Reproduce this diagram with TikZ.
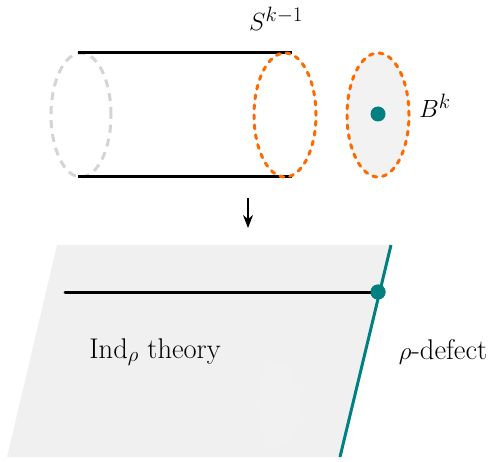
\documentclass[tikz,border=0pt]{standalone}
\usetikzlibrary{arrows.meta}
\definecolor{orng}{HTML}{FF6A00}
\definecolor{tealc}{HTML}{008080}
\definecolor{ltgray}{HTML}{D4D4D4}
\definecolor{planefill}{HTML}{F0F0F0}
\definecolor{diskfill}{HTML}{F2F2F2}
\definecolor{faintfill}{HTML}{F1F1F1}
\begin{document}
\begin{tikzpicture}[x=1pt,y=-1pt,
  solidline/.style={line width=3pt},
  orngdash/.style={draw=orng,line width=3pt,line cap=round,dash pattern=on 4pt off 6pt},
  graydash/.style={draw=ltgray,line width=3pt,dash pattern=on 8pt off 6pt},
  dot/.style={circle,fill=tealc,inner sep=0pt,minimum size=15pt},
  lbl/.style={inner sep=0pt,font=\fontsize{28.5}{34}\selectfont}]
\useasboundingbox (0,0) rectangle (489,462);
% top cylinder
\coordinate (tl) at (78,53);
\coordinate (tr) at (292,53);
\coordinate (bl) at (78,177);
\coordinate (br) at (292,177);
\draw[graydash] (81,115) ellipse [x radius=30pt, y radius=62pt];
\draw[solidline] (tl) -- (tr);
\draw[solidline] (bl) -- (br);
\draw[orngdash] (285,115) ellipse [x radius=31pt, y radius=62pt];
\node[lbl] (S) at (276,19) {$S^{k-1}$};
% ball
\fill[diskfill] (378,115) ellipse [x radius=31pt, y radius=62pt];
\draw[orngdash] (378,115) ellipse [x radius=31pt, y radius=62pt];
\node[dot] (bdot) at (378,114) {};
\node[lbl,anchor=west] (B) at (419,106) {$B^k$};
% arrow
\coordinate (a1) at (248,198);
\coordinate (a2) at (248,228);
\draw[line width=1.3pt,-{Stealth[length=13pt,width=10pt]}] (a1) -- (a2);
% plane
\coordinate (p1) at (57,245);
\coordinate (p2) at (391,245);
\coordinate (p3) at (340,457);
\coordinate (p4) at (7,457);
\fill[planefill] (p1) -- (p2) -- (p3) -- (p4) -- cycle;
\fill[faintfill] (278,405) ellipse [x radius=21pt, y radius=42pt];
\draw[tealc,line width=3pt] (p2) -- (p3);
\coordinate (ls) at (65,292);
\node[dot] (pdot) at (378,292) {};
\draw[solidline,line cap=round] (ls) -- (pdot.center);
\node[dot] at (378,292) {};
\node[lbl] (ind) at (155,352) {Ind$_\rho$ theory};
\node[lbl] (def) at (443,352) {$\rho$-defect};
\end{tikzpicture}
\end{document}
